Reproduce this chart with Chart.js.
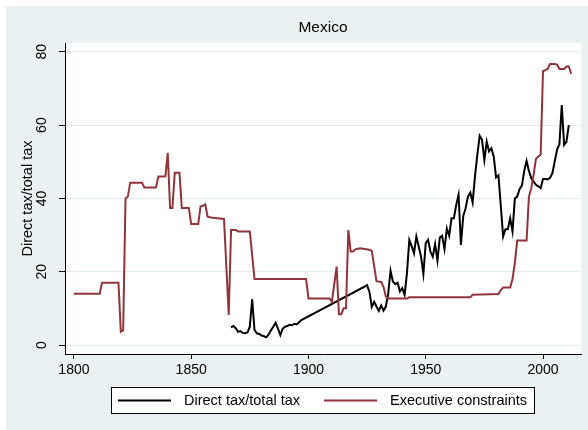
<!DOCTYPE html>
<html>
<head>
<meta charset="utf-8">
<script src="https://cdn.jsdelivr.net/npm/chart.js@4/dist/chart.umd.min.js"></script>
<style>
  html, body { margin: 0; padding: 0; background: #fff; }
</style>
</head>
<body>
<canvas id="chart" width="588" height="430"></canvas>
<script>
/* values */
const taxYears = [1867, 1868, 1869, 1870, 1871, 1872, 1873, 1874, 1875, 1876,
  1877, 1878, 1879, 1880, 1881, 1882, 1883, 1884, 1885, 1886,
  1887, 1888, 1889, 1890, 1891, 1892, 1893, 1894, 1895, 1896, 1897,
  1925, 1926, 1927, 1928, 1929, 1930, 1931, 1932, 1933, 1934,
  1935, 1936, 1937, 1938, 1939, 1940, 1941, 1942, 1943, 1944,
  1945, 1946, 1947, 1948, 1949, 1950, 1951, 1952, 1953, 1954,
  1955, 1956, 1957, 1958, 1959, 1960, 1961, 1962, 1963, 1964,
  1965, 1966, 1967, 1968, 1969, 1970, 1971, 1972, 1973, 1974,
  1975, 1976, 1977, 1978, 1979, 1980, 1981, 1982, 1983, 1984,
  1985, 1986, 1987, 1988, 1989, 1990, 1991, 1992, 1993, 1994,
  1995, 1996, 1997, 1998, 1999, 2000, 2001, 2002, 2003, 2004,
  2005, 2006, 2007, 2008, 2009, 2010, 2011];
const taxValues = [4.8, 5.2, 4.6, 3.6, 3.8, 3.3, 3.2, 3.4, 5.0, 12.5,
  4.1, 3.2, 3.0, 2.6, 2.4, 2.1, 2.9, 4.0, 5.0, 6.1,
  4.5, 2.7, 4.4, 5.0, 5.2, 5.5, 5.4, 5.8, 5.6, 6.2, 6.8,
  16.3, 14.5, 10.4, 11.8, 10.5, 9.3, 10.8, 9.4, 10.5, 14.0,
  20.3, 17.3, 16.6, 17.0, 14.6, 15.5, 13.7, 19.6, 28.7, 27.0,
  25.0, 29.6, 26.9, 24.1, 19.4, 27.8, 28.7, 25.5, 24.1, 27.5,
  23.0, 29.3, 29.8, 26.2, 31.8, 29.8, 34.6, 34.6, 38.2, 41.0,
  27.3, 35.2, 37.3, 40.5, 41.6, 38.9, 46.0, 51.9, 57.1, 56.0,
  50.5, 55.5, 52.8, 53.7, 51.4, 45.7, 46.3, 38.0, 29.6, 31.6,
  31.6, 34.6, 31.0, 40.0, 40.5, 42.5, 43.5, 47.5, 50.3, 47.5,
  45.5, 44.6, 43.7, 43.3, 42.8, 45.3, 45.3, 45.2, 45.6, 46.9,
  50.1, 53.3, 54.8, 65.5, 54.6, 55.5, 60.0];

const xconstYears = [1800, 1811, 1812, 1819, 1820, 1821, 1822, 1823, 1824, 1829,
  1830, 1835, 1836, 1839, 1840, 1841, 1842, 1843, 1845, 1846,
  1849, 1850, 1853, 1854, 1855, 1856, 1857, 1859, 1864, 1866,
  1867, 1869, 1870, 1875, 1877, 1899, 1900, 1909, 1910, 1912,
  1913, 1914, 1915, 1916, 1917, 1918, 1919, 1920, 1922, 1926,
  1927, 1929, 1931, 1932, 1933, 1934, 1942, 1943, 1969, 1970,
  1981, 1982, 1983, 1986, 1987, 1988, 1989, 1992, 1993, 1994,
  1995, 1996, 1997, 1998, 1999, 2000, 2001, 2002, 2003, 2005,
  2006, 2007, 2009, 2010, 2011, 2012];
const xconstValues = [14.0, 14.0, 17.0, 17.0, 3.6, 4.0, 40.0, 40.5, 44.3, 44.3,
  43.0, 43.0, 46.0, 46.0, 52.4, 37.4, 37.4, 47.0, 47.0, 37.4,
  37.4, 33.0, 33.0, 37.8, 38.0, 38.4, 35.0, 34.7, 34.4, 8.2,
  31.4, 31.4, 31.0, 31.0, 18.0, 18.0, 12.7, 12.7, 11.8, 21.4,
  8.4, 8.4, 10.0, 10.0, 31.4, 25.5, 25.5, 26.1, 26.4, 26.0,
  25.7, 17.4, 17.2, 15.9, 13.2, 12.7, 12.7, 13.0, 13.0, 13.7,
  13.9, 15.0, 15.7, 15.7, 18.0, 22.5, 28.5, 28.5, 28.5, 40.5,
  42.8, 46.5, 50.8, 51.4, 51.9, 74.7, 75.0, 75.3, 76.7, 76.7,
  76.5, 75.3, 75.3, 76.0, 76.0, 74.0];

const seriesLabels = ["Direct tax/total tax", "Executive constraints"];
const seriesColors = ["#000000", "#90353B"];
const xTicks = [1800, 1850, 1900, 1950, 2000];
const yTicks = [0, 20, 40, 60, 80];

const FONT = '"Liberation Sans", Arial, Helvetica, sans-serif';

function toPoints(xs, ys) {
  return xs.map((x, i) => ({ x: x, y: ys[i] }));
}

/* light bluish frame with a white plot region, like Stata s2color */
const backdrop = {
  id: "backdrop",
  beforeDraw(chart) {
    const { ctx, width, height, chartArea } = chart;
    ctx.save();
    ctx.fillStyle = "#ffffff";
    ctx.fillRect(0, 0, width, height);
    ctx.fillStyle = "#E9F1F3";
    ctx.fillRect(6, 6, width - 6, height - 6);
    ctx.fillStyle = "#ffffff";
    ctx.fillRect(chartArea.left, chartArea.top,
      chartArea.right - chartArea.left, chartArea.bottom - chartArea.top);
    ctx.restore();
  }
};

/* vertical y tick labels */
const yLabels = {
  id: "yLabels",
  afterDraw(chart) {
    const { ctx } = chart;
    const y = chart.scales.y;
    ctx.save();
    ctx.font = "14px " + FONT;
    ctx.fillStyle = "#000";
    ctx.textAlign = "center";
    ctx.textBaseline = "middle";
    y.ticks.forEach((t) => {
      ctx.save();
      ctx.translate(y.right - 23, y.getPixelForValue(t.value));
      ctx.rotate(-Math.PI / 2);
      ctx.fillText(String(t.value), 0, 0);
      ctx.restore();
    });
    ctx.restore();
  }
};

/* boxed legend under the x axis */
const boxLegend = {
  id: "boxLegend",
  afterDraw(chart) {
    const { ctx, chartArea } = chart;
    const sets = chart.data.datasets;
    ctx.save();
    ctx.font = "14.5px " + FONT;
    const sample = 53, gapText = 13, gapItem = 24, pad = 7;
    const widths = sets.map((d) => ctx.measureText(d.label).width);
    let total = pad * 2 + gapItem * (sets.length - 1);
    widths.forEach((w) => { total += sample + gapText + w; });
    const left = Math.round((chartArea.left + chartArea.right) / 2 - total / 2);
    const top = chart.scales.x.bottom + 9;
    const h = 26;
    ctx.fillStyle = "#fff";
    ctx.fillRect(left, top, total, h);
    ctx.strokeStyle = "#000";
    ctx.lineWidth = 1;
    ctx.strokeRect(left + 0.5, top + 0.5, Math.round(total), h);
    let x = left + pad;
    const cy = top + h / 2 + 0.5;
    sets.forEach((d, i) => {
      ctx.strokeStyle = d.borderColor;
      ctx.lineWidth = 2;
      ctx.beginPath();
      ctx.moveTo(x, cy);
      ctx.lineTo(x + sample, cy);
      ctx.stroke();
      x += sample + gapText;
      ctx.fillStyle = "#000";
      ctx.textAlign = "left";
      ctx.textBaseline = "middle";
      ctx.fillText(d.label, x, cy);
      x += widths[i] + gapItem;
    });
    ctx.restore();
  }
};

const config = {
  type: "line",
  data: {
    datasets: [
      {
        label: seriesLabels[0],
        data: toPoints(taxYears, taxValues),
        borderColor: seriesColors[0],
        borderWidth: 2,
        pointRadius: 0,
        tension: 0,
        fill: false,
        order: 1
      },
      {
        label: seriesLabels[1],
        data: toPoints(xconstYears, xconstValues),
        borderColor: seriesColors[1],
        borderWidth: 2,
        pointRadius: 0,
        tension: 0,
        fill: false,
        order: 0
      }
    ]
  },
  options: {
    responsive: false,
    animation: false,
    devicePixelRatio: 1,
    layout: { padding: { left: 0, right: 7, top: 0, bottom: 52 } },
    plugins: {
      legend: { display: false },
      tooltip: { enabled: false },
      title: {
        display: true,
        fullSize: false,
        text: "Mexico",
        color: "#000",
        font: { family: FONT, size: 15.5, weight: "normal", lineHeight: "17px" },
        padding: { top: 19, bottom: 7 }
      }
    },
    scales: {
      x: {
        type: "linear",
        min: 1796.2,
        max: 2016.2,
        afterBuildTicks: (s) => { s.ticks = xTicks.map((v) => ({ value: v })); },
        afterFit: (s) => { s.height = 24; },
        grid: { drawOnChartArea: false, drawTicks: true, tickLength: 5, color: "#000" },
        border: { color: "#000", width: 1 },
        ticks: {
          color: "#000",
          padding: 3,
          maxRotation: 0,
          font: { family: FONT, size: 14 },
          callback: (v) => String(v)
        }
      },
      y: {
        type: "linear",
        min: -2.45,
        max: 82.4,
        afterBuildTicks: (s) => { s.ticks = yTicks.map((v) => ({ value: v })); },
        afterFit: (s) => { s.width = 65; },
        grid: { color: "#E3ECEE", lineWidth: 1, tickColor: "#000", tickLength: 6 },
        border: { color: "#000", width: 1 },
        ticks: { color: "rgba(0,0,0,0)", font: { family: FONT, size: 14 } },
        title: {
          display: true,
          text: "Direct tax/total tax",
          color: "#000",
          font: { family: FONT, size: 14.5 },
          padding: { top: 19, bottom: 0 }
        }
      }
    }
  },
  plugins: [backdrop, yLabels, boxLegend]
};

new Chart(document.getElementById("chart"), config);
</script>
</body>
</html>
